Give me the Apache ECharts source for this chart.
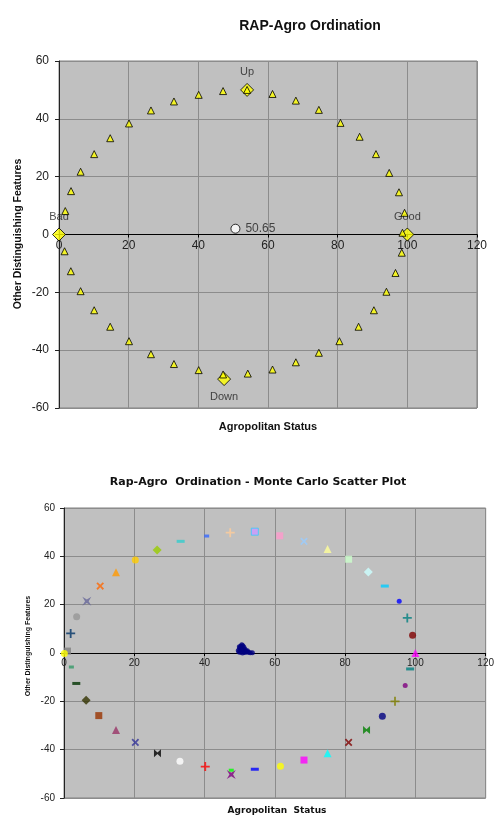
<!DOCTYPE html>
<html>
<head>
<meta charset="utf-8">
<script src="https://cdn.jsdelivr.net/npm/echarts@6/dist/echarts.min.js"></script>
<style>
html,body{margin:0;padding:0;background:#fff;}
#main{width:497px;height:816px;}
</style>
</head>
<body>
<div id="main"></div>
<script>
/* top chart: ordination points */
var triX=[1.8,3.45,6.2,10.1,14.7,20.1,26.4,33,40.1,47.1,54,61.3,68,74.6,80.8,86.3,91,94.8,97.6,99.2,98.6,
	1.6,3.4,6.2,10.1,14.7,20.1,26.4,33,40.1,47.1,54.2,61.3,68,74.6,80.5,86,90.4,94,96.6,98.4];
var triY=[8.1,15,21.7,27.8,33.3,38.4,42.9,46,48.3,49.6,50,48.6,46.3,43.1,38.6,33.8,27.8,21.3,14.6,7.5,0.6,
	-5.8,-12.7,-19.6,-26.2,-31.9,-36.9,-41.4,-44.8,-46.9,-48.4,-48.1,-46.7,-44.2,-40.9,-36.9,-31.9,-26.2,-19.8,-13.3,-6.3];
var anchorNames=['Up','Down','Good','Bad'];
var anchorX=[54,47.4,100,0];
var anchorY=[50,-50,0,0];
var centroidX=50.65;
var centroidY=2;

/* bottom chart: monte carlo runs */
var mcX=[1.9,3.6,6.5,10.3,14.8,20.3,26.5,33.2,40.6,47.3,54.3,61.4,68.3,75,81,86.6,91.3,95.4,97.7,99.2,
	100,98.5,97.1,94.2,90.6,86.1,81,75,68.3,61.6,54.3,47.6,47.6,40.2,33,26.6,20.3,14.8,9.9,6.3,3.5,2.1,1,0.1];
var mcY=[8.1,15,21.4,27.7,33.4,38.5,42.6,46.2,48.4,49.8,50.2,48.5,46.2,43,38.8,33.5,27.7,21.4,14.5,7.3,
	0,-6.6,-13.4,-20,-26.2,-31.9,-37,-41.5,-44.3,-46.9,-48.1,-50.3,-48.5,-47,-44.8,-41.5,-37,-31.9,-25.9,-19.6,-12.6,-5.8,0.8,-0.2];
var clusterX=[49.6,50,50.3,50.6,50.9,51.2,50.5,51,51.5,51.8,50.2,49.8,51.4,52,52.5,53,53.6,50.8,52.2,49.9];
var clusterY=[1,2,2.8,3.4,3,2.4,1.5,1,1.6,0.8,0.3,0.4,0.2,0.4,0.3,0.1,0.1,0,0.9,2.6];

/* marker styles for the runs */
var mcColor=['#003366','#969696','#666699','#ff6600','#ff9900','#ffcc00','#99cc00','#33cccc','#3366ff','#ffcc99',
	'#cc99ff','#ff99cc','#99ccff','#ffff99','#ccffcc','#ccffff','#00ccff','#0000ff','#008080','#800000',
	'#ff00ff','#008080','#800080','#808000','#000080','#008000','#800000','#00ffff','#ff00ff','#ffff00',
	'#0000ff','#800080','#00ff00','#ff0000','#ffffff','#000000','#333399','#993366','#993300','#333300',
	'#003300','#339966','#808080','#ffff00'];
var PLUS='path://M4,0h2v4h4v2h-4v4h-2v-4h-4v-2h4z';
var BOW='path://M0,0h10l-4,5l4,5h-10l4,-5z';
var STAR='path://M0,0l5,3l5,-3l-3,5l3,5l-5,-3l-5,3l3,-5z';
var mcSymbol=['plus','circle','star','x','triangle','circle','diamond','dash','dashs','plus',
	'rect','rect','x','triangle','rect','diamond','dash','circles','plus','circle',
	'triangle','dash','circles','plus','circle','bow','x','triangle','rect','circle',
	'dash','star','dashs','plus','circle','bow','x','triangle','rect','diamond',
	'dash','dashs','rect','circle'];

function sym(name){
	if(name=='plus') return {symbol:PLUS,symbolSize:9,rotate:0};
	if(name=='x') return {symbol:PLUS,symbolSize:9,rotate:45};
	if(name=='star') return {symbol:STAR,symbolSize:9,rotate:0};
	if(name=='bow') return {symbol:BOW,symbolSize:[8,7],rotate:90};
	if(name=='dash') return {symbol:'rect',symbolSize:[8,3],rotate:0};
	if(name=='dashs') return {symbol:'rect',symbolSize:[5,3],rotate:0};
	if(name=='circles') return {symbol:'circle',symbolSize:5,rotate:0};
	if(name=='diamond') return {symbol:'diamond',symbolSize:9,rotate:0};
	if(name=='triangle') return {symbol:'triangle',symbolSize:8,rotate:0};
	if(name=='rect') return {symbol:'rect',symbolSize:7,rotate:0};
	return {symbol:'circle',symbolSize:7,rotate:0};
}

var font='Liberation Sans';
// x axis sits on the y=0 line (offset = -half the grid height)
function axisPair(idx,fs,halfH,yMargin){
	var x={
		type:'value',gridIndex:idx,min:0,max:120,interval:20,position:'bottom',offset:-halfH,
		axisLine:{onZero:false,lineStyle:{color:'#000',width:1}},
		axisTick:{show:true,length:3,lineStyle:{color:'#000'}},
		axisLabel:{color:'#222',fontSize:fs,fontFamily:font,margin:5,showMaxLabel:true},
		splitLine:{show:true,lineStyle:{color:'#8c8c8c',width:1}}
	};
	var y={
		type:'value',gridIndex:idx,min:-60,max:60,interval:20,
		axisLine:{onZero:false,lineStyle:{color:'#222',width:1}},
		axisTick:{show:true,length:4,lineStyle:{color:'#222'}},
		axisLabel:{color:'#222',fontSize:fs,fontFamily:font,margin:yMargin},
		splitLine:{show:true,lineStyle:{color:'#8c8c8c',width:1}}
	};
	return [x,y];
}
var a0=axisPair(0,12,173.5,10);
var a1=axisPair(1,10,145,9);

var series=[];

// top: anchors
var anchorData=[];
var anchorPos=['top','bottom','top','top'];
for(var i=0;i<anchorNames.length;i++){
	anchorData.push({value:[anchorX[i],anchorY[i]],name:anchorNames[i],label:{position:anchorPos[i]}});
}
series.push({
	type:'scatter',xAxisIndex:0,yAxisIndex:0,symbol:'diamond',symbolSize:13,z:3,
	itemStyle:{color:'#ffff00',borderColor:'#000',borderWidth:1},
	label:{show:true,formatter:'{b}',color:'#222',fontSize:11,fontFamily:font,distance:5},
	data:anchorData
});
// top: triangles
var triData=[];
for(var i=0;i<triX.length;i++) triData.push([triX[i],triY[i]]);
series.push({
	type:'scatter',xAxisIndex:0,yAxisIndex:0,symbol:'triangle',symbolSize:7,z:4,
	itemStyle:{color:'#ffff00',borderColor:'#000',borderWidth:1},
	data:triData
});
// top: centroid
series.push({
	type:'scatter',xAxisIndex:0,yAxisIndex:0,symbol:'circle',symbolSize:9,z:4,
	itemStyle:{color:'#fff',borderColor:'#000',borderWidth:1},
	label:{show:true,position:'right',distance:5,formatter:function(){return centroidX.toFixed(2);},color:'#222',fontSize:12,fontFamily:font},
	data:[[centroidX,centroidY]]
});

// bottom: each run its own series
for(var i=0;i<mcX.length;i++){
	var s=sym(mcSymbol[i]);
	var border=(i==10)?'#33ccff':mcColor[i];
	series.push({
		type:'scatter',xAxisIndex:1,yAxisIndex:1,symbol:s.symbol,symbolSize:s.symbolSize,symbolRotate:s.rotate,z:3,
		itemStyle:{color:mcColor[i],borderColor:border,borderWidth:i==10?1:0},
		data:[[mcX[i],mcY[i]]]
	});
}
var clusterData=[];
for(var i=0;i<clusterX.length;i++) clusterData.push([clusterX[i],clusterY[i]]);
series.push({
	type:'scatter',xAxisIndex:1,yAxisIndex:1,symbol:'circle',symbolSize:5,z:3,
	itemStyle:{color:'#000080'},
	data:clusterData
});

var myChart=echarts.init(document.getElementById('main'),null,{renderer:'canvas'});
var option={
	animation:false,
	backgroundColor:'#fff',
	title:[
		{text:'RAP-Agro Ordination',left:305,top:14,textAlign:'center',
			textStyle:{fontFamily:font,fontSize:14,fontWeight:'bold',color:'#111'}},
		{text:'Rap-Agro  Ordination - Monte Carlo Scatter Plot',left:253,top:472,textAlign:'center',
			textStyle:{fontFamily:'DejaVu Sans',fontSize:11,fontWeight:'bold',color:'#111'}}
	],
	grid:[
		{left:59,top:61,width:418,height:347,show:true,backgroundColor:'#c0c0c0',borderColor:'#808080',borderWidth:1},
		{left:64,top:508,width:424,height:290,show:true,backgroundColor:'#c0c0c0',borderColor:'#808080',borderWidth:1}
	],
	xAxis:[a0[0],a1[0]],
	yAxis:[a0[1],a1[1]],
	graphic:[
		{type:'text',x:268,y:427,style:{text:'Agropolitan Status',font:'bold 11px "Liberation Sans"',fill:'#111',align:'center',verticalAlign:'middle'}},
		{type:'text',x:18,y:234,rotation:Math.PI/2,style:{text:'Other Distinguishing Features',font:'bold 10.5px "Liberation Sans"',fill:'#111',align:'center',verticalAlign:'middle'}},
		{type:'text',x:277,y:811,style:{text:'Agropolitan  Status',font:'bold 9px "DejaVu Sans"',fill:'#111',align:'center',verticalAlign:'middle'}},
		{type:'text',x:28,y:646,rotation:Math.PI/2,style:{text:'Other Distinguishing Features',font:'bold 7px "Liberation Sans"',fill:'#111',align:'center',verticalAlign:'middle'}}
	],
	series:series
};
myChart.setOption(option);
</script>
</body>
</html>
